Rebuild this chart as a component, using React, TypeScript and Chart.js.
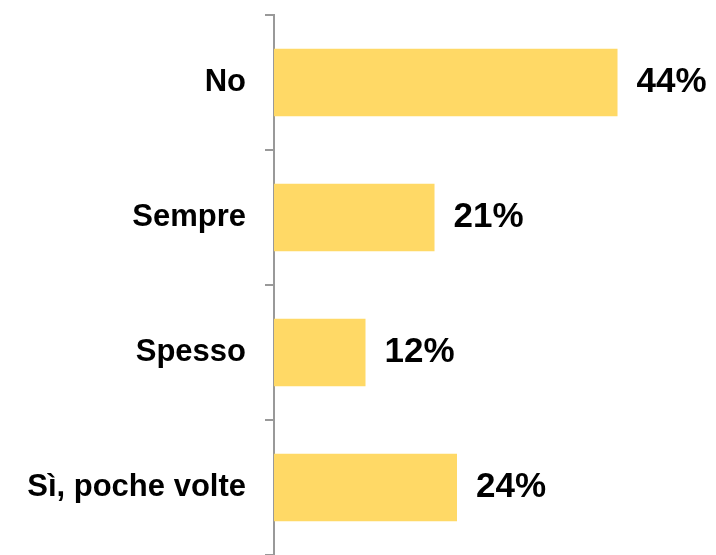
import React, { useEffect, useRef } from "react";
import { Chart, registerables } from "chart.js";

Chart.register(...registerables);

const categories = ["No", "Sempre", "Spesso", "Sì, poche volte"];
const values = [44.3, 20.7, 11.8, 23.6];
const valueLabels = ["44%", "21%", "12%", "24%"];

const FONT = "'Liberation Sans', Arial, sans-serif";

const valueLabelPlugin = {
  id: "valueLabels",
  afterDatasetsDraw(chart: any) {
    const ctx = chart.ctx;
    const meta = chart.getDatasetMeta(0);
    ctx.save();
    ctx.font = `bold 35px ${FONT}`;
    ctx.fillStyle = "#000000";
    ctx.textAlign = "left";
    ctx.textBaseline = "middle";
    meta.data.forEach((bar: any, i: number) => {
      ctx.fillText(valueLabels[i], bar.x + 19, bar.y);
    });
    ctx.restore();
  },
};

export default function App() {
  const ref = useRef<HTMLCanvasElement>(null);

  useEffect(() => {
    if (!ref.current) return;
    const chart = new Chart(ref.current, {
      type: "bar",
      data: {
        labels: categories,
        datasets: [
          {
            data: values,
            backgroundColor: "#FFD966",
            borderWidth: 0,
            barPercentage: 0.5,
            categoryPercentage: 1,
          },
        ],
      },
      options: {
        indexAxis: "y",
        responsive: false,
        animation: false,
        layout: { padding: { top: 15, bottom: 0, left: 0, right: 0 } },
        plugins: {
          legend: { display: false },
          tooltip: { enabled: false },
        },
        scales: {
          x: {
            display: false,
            min: 0,
            max: 57,
          },
          y: {
            afterFit: (scale: any) => {
              scale.width = 274;
              scale.paddingTop = 0;
              scale.paddingBottom = 0;
            },
            grid: {
              display: true,
              drawOnChartArea: false,
              drawTicks: true,
              tickLength: 9,
              color: "#999999",
              lineWidth: 2,
              offset: true,
            },
            border: { display: true, color: "#999999", width: 2 },
            ticks: {
              color: "#000000",
              padding: 19,
              font: { family: FONT, size: 31, weight: "bold" },
            },
          },
        },
      },
      plugins: [valueLabelPlugin],
    });
    return () => chart.destroy();
  }, []);

  return (
    <div style={{ position: "fixed", left: 0, top: 0, width: 716, height: 555, background: "#ffffff" }}>
      <canvas ref={ref} width={716} height={555} style={{ display: "block" }} />
    </div>
  );
}
